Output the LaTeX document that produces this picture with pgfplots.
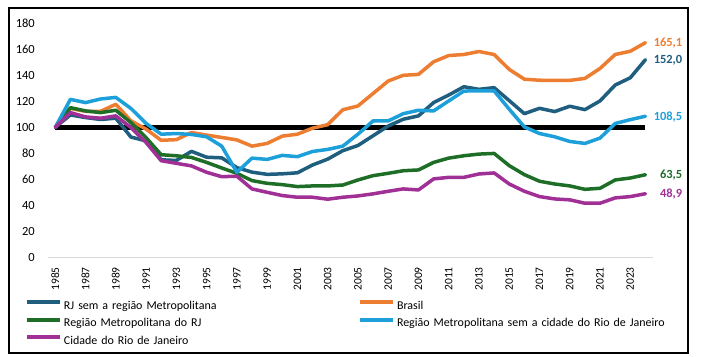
\documentclass[border=0pt]{standalone}
\usepackage{pgfplots}
\pgfplotsset{compat=1.18}
\usepackage{pgfplotstable}
\usepackage{fontspec}
\setmainfont{Carlito}
\definecolor{cRJ}{RGB}{31,94,127}
\definecolor{cBR}{RGB}{237,125,49}
\definecolor{cRM}{RGB}{30,110,40}
\definecolor{cRS}{RGB}{29,160,218}
\definecolor{cCI}{RGB}{160,48,150}
\definecolor{cAX}{RGB}{217,217,217}
\pgfplotstableread{
year rj br rm rs ci
1985 100 100 100 100 100
1986 109.5 114.5 115.1 121.5 111.3
1987 107.5 112.3 112.6 119 108
1988 106 112.3 111.3 121.8 107
1989 107 117.7 113.1 123 108.8
1990 92.5 105 103.6 114.5 99.8
1991 89.5 98.6 92 103 88.3
1992 75 90 78.9 94.7 74.3
1993 74.5 90.5 78.1 95.2 72.3
1994 81.5 96 76.8 94.5 70.3
1995 77 94 73 92.7 65.4
1996 76.5 92.2 68.7 85.5 62
1997 69 90.3 64.6 65.4 62.4
1998 65.5 85.5 59 76.3 52.6
1999 63.8 87.6 56.9 75.3 50
2000 64.2 93.2 55.9 78.4 47.5
2001 65 94.7 54.4 77.4 46.2
2002 71 99.3 54.9 81.4 46.2
2003 75.5 102 54.9 83 44.7
2004 82 113.5 55.6 85.5 46.2
2005 86 116.4 59.5 94.7 47.2
2006 93.5 126 62.8 104.9 48.8
2007 101 135.6 64.6 104.9 50.8
2008 106.2 140 66.6 110.5 52.6
2009 108.8 140.7 67.2 113.1 51.8
2010 119 150.4 73 112.6 60.3
2011 124.8 155.2 76.3 120.3 61.5
2012 131.2 156 78.1 127.9 61.5
2013 129.2 158.3 79.4 128 64.1
2014 130.5 156 79.9 128 64.9
2015 120.5 144.5 70.5 113.9 56.4
2016 110.5 137 63.6 100.3 50.8
2017 114.6 136.2 58.5 95.2 46.7
2018 112.1 136.1 56.4 92.7 44.9
2019 116.2 136.1 54.9 89.1 44.2
2020 113.6 137.6 52.3 87.6 41.6
2021 120.3 145.3 53.1 91.7 41.6
2022 132.5 156 59.5 102.9 45.7
2023 138.1 158.5 61 105.9 46.7
2024 152.0 165.1 63.5 108.5 48.9
}\datatable
\begin{document}
\begin{tikzpicture}[x=1bp,y=1bp]
\path[use as bounding box] (0,0) rectangle (701,356);
\draw[line width=1.3bp] (9,3) rectangle (688,348);
\begin{axis}[
  scale only axis, width=605.3bp, height=234bp,
  at={(47.7bp,98.7bp)}, anchor=south west,
  xmin=1984.5, xmax=2024.5, ymin=0, ymax=180,
  clip=false,
  axis x line=bottom, axis y line=left,
  axis line style={-},
  x axis line style={draw=cAX, line width=1bp},
  y axis line style={draw=none},
  tick style={draw=none}, major tick length=0pt,
  xtick={1985,1987,...,2023},
  ytick={0,20,...,180},
  /pgf/number format/assume math mode=true,
  /pgf/number format/1000 sep={},
  xticklabel style={rotate=90, anchor=east, inner sep=0pt, font=\fontsize{11.5}{13}\selectfont},
  xticklabel shift=9.7bp,
  yticklabel style={anchor=east, inner sep=0pt, font=\fontsize{12.5}{14}\selectfont},
  yticklabel shift=12.7bp,
  every axis plot/.append style={line width=3.5bp, line join=round, line cap=round},
  legend columns=2,
  legend style={at={(-0.0375,-0.1825)}, anchor=north west, draw=none, fill=none,
    inner sep=0pt, outer sep=0pt, row sep=5.5bp, column sep=2bp,
    nodes={inner sep=0pt, text width=292bp, align=left, text height=9bp, text depth=3bp,
      font=\fontsize{12}{14}\selectfont}},
  legend image code/.code={\draw[#1, line width=4bp, line cap=butt] (0bp,3.8bp) -- (33bp,3.8bp);},
]
\addplot[black, line width=4.5bp, line cap=butt, forget plot] coordinates {(1985,100) (2024,100)};
\addplot[cRJ] table[x=year, y=rj] {\datatable};
\addlegendentry{RJ sem a região Metropolitana}
\addplot[cBR] table[x=year, y=br] {\datatable};
\addlegendentry{Brasil}
\addplot[cRM] table[x=year, y=rm] {\datatable};
\addlegendentry{Região Metropolitana do RJ}
\addplot[cRS] table[x=year, y=rs] {\datatable};
\addlegendentry{Região Metropolitana sem a cidade do Rio de Janeiro}
\addplot[cCI] table[x=year, y=ci] {\datatable};
\addlegendentry{Cidade do Rio de Janeiro}
\begin{scope}[every node/.style={anchor=base east, inner sep=0pt, xshift=37bp, yshift=-3.85bp, font=\fontsize{12.5}{14}\selectfont\bfseries}]
\node[text=cBR] at (axis cs:2024,165.1) {165,1};
\node[text=cRJ] at (axis cs:2024,152.0) {152,0};
\node[text=cRS] at (axis cs:2024,108.5) {108,5};
\node[text=cRM] at (axis cs:2024,63.5) {63,5};
\node[text=cCI] at (axis cs:2024,48.9) {48,9};
\end{scope}
\end{axis}
\end{tikzpicture}
\end{document}
